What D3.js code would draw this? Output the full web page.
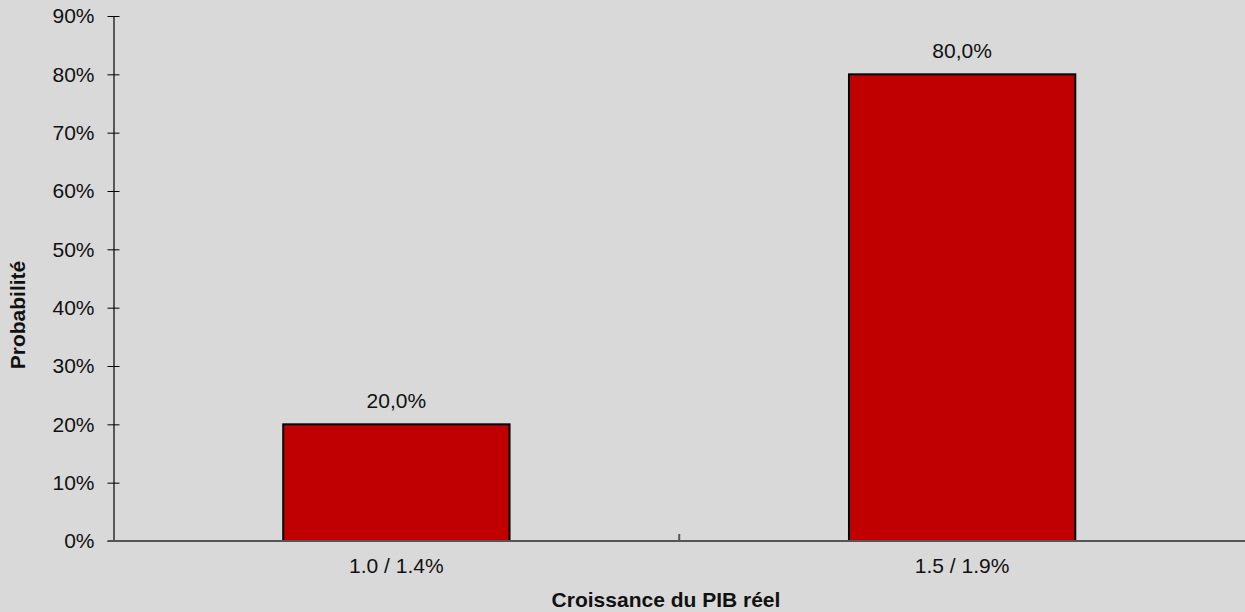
<!DOCTYPE html>
<html>
<head>
<meta charset="utf-8">
<script src="https://cdn.jsdelivr.net/npm/d3@7"></script>
<style>
  body { margin: 0; background: #d9d9d9; }
  svg { display: block; font-family: "Liberation Sans", Arial, sans-serif; }
</style>
</head>
<body>
<svg id="chart" width="1245" height="612"></svg>
<script>
// data
var categories = ["1.0 / 1.4%", "1.5 / 1.9%"];
var values = [0.20, 0.80];
var yTicks = [0, 0.1, 0.2, 0.3, 0.4, 0.5, 0.6, 0.7, 0.8, 0.9];

var margin = { top: 16, right: 0, bottom: 71, left: 113.5 },
  width = 1245 - margin.left - margin.right,
  height = 612 - margin.top - margin.bottom;

var fontSize = 21;

var svg = d3.select("#chart");
svg.append("rect").attr("width", 1245).attr("height", 612).attr("fill", "#d9d9d9");

var g = svg.append("g")
  .attr("transform", "translate(" + margin.left + "," + margin.top + ")");

var x = d3.scaleBand().domain(categories).range([0, width]).paddingInner(0).paddingOuter(0);
var y = d3.scaleLinear().domain([0, 0.9]).range([height, 0]);

var fmtTick = function (d) { return Math.round(d * 100) + "%"; };
var fmtLabel = function (d) { return (d * 100).toFixed(1).replace(".", ",") + "%"; };

// bars
var barW = x.bandwidth() * 0.4;
g.selectAll(".bar")
  .data(values)
  .enter()
  .append("rect")
  .attr("class", "bar")
  .attr("x", function (d, i) { return x(categories[i]) + x.bandwidth() / 2 - barW / 2; })
  .attr("y", function (d) { return y(d); })
  .attr("width", barW)
  .attr("height", function (d) { return height - y(d); })
  .attr("fill", "#c00000")
  .attr("stroke", "#000")
  .attr("stroke-width", 2);

// value labels
g.selectAll(".val")
  .data(values)
  .enter()
  .append("text")
  .attr("x", function (d, i) { return x(categories[i]) + x.bandwidth() / 2; })
  .attr("y", function (d) { return y(d) - 16; })
  .attr("text-anchor", "middle")
  .attr("font-size", fontSize)
  .attr("fill", "#111")
  .text(fmtLabel);

// y axis
var yAxis = g.append("g")
  .call(d3.axisLeft(y).tickValues(yTicks).tickFormat(fmtTick).tickSize(0).tickPadding(19));
yAxis.select(".domain").attr("stroke", "#000").attr("stroke-width", 1.2);
yAxis.selectAll(".tick line").attr("x1", -6).attr("x2", 6).attr("stroke", "#000");
yAxis.selectAll(".tick text").attr("font-size", fontSize).attr("fill", "#111")
  .attr("font-family", "Liberation Sans, Arial, sans-serif");

// x axis
var xAxis = g.append("g")
  .attr("transform", "translate(0," + height + ")")
  .call(d3.axisBottom(x).tickSize(0).tickPadding(17));
xAxis.select(".domain").attr("stroke", "#555").attr("stroke-width", 2)
  .attr("d", "M-6,0H" + width);
xAxis.selectAll(".tick text").attr("font-size", fontSize).attr("fill", "#111")
  .attr("font-family", "Liberation Sans, Arial, sans-serif");
// separator tick between categories
g.append("line")
  .attr("x1", x(categories[1])).attr("x2", x(categories[1]))
  .attr("y1", height).attr("y2", height - 7)
  .attr("stroke", "#555").attr("stroke-width", 2);

// axis titles
svg.append("text")
  .attr("x", 666)
  .attr("y", 607)
  .attr("text-anchor", "middle")
  .attr("font-size", fontSize)
  .attr("font-weight", "bold")
  .attr("fill", "#111")
  .text("Croissance du PIB réel");

svg.append("text")
  .attr("transform", "translate(25," + 315 + ") rotate(-90)")
  .attr("text-anchor", "middle")
  .attr("font-size", fontSize)
  .attr("font-weight", "bold")
  .attr("fill", "#111")
  .text("Probabilité");
</script>
</body>
</html>
